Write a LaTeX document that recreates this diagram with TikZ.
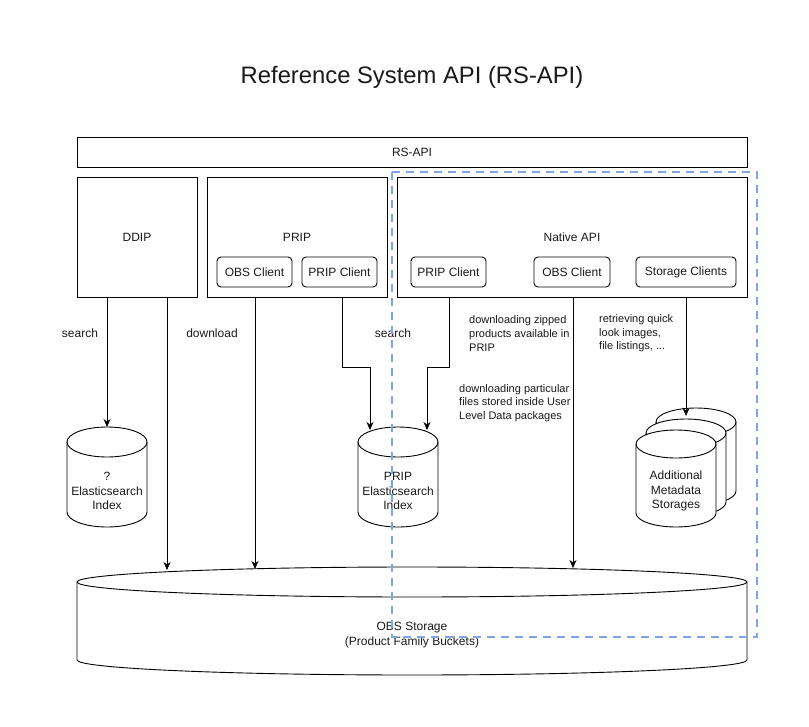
\documentclass[tikz,border=0pt]{standalone}
\usepackage{fontspec}
\setmainfont{Liberation Sans}
\usetikzlibrary{arrows.meta}
\definecolor{dashblue}{HTML}{7EA6E0}
\definecolor{txt}{HTML}{1A1A1A}
\tikzset{
  box/.style={draw, line width=0.9pt, fill=white, outer sep=0pt, inner sep=0pt, text=txt, font=\fontsize{12}{14.4}\selectfont},
  client/.style={box, rounded corners=4pt, minimum width=75pt, minimum height=30pt},
  lbl/.style={inner sep=0pt, text=txt, font=\fontsize{12}{14.4}\selectfont},
  note/.style={inner sep=0pt, text=txt, align=left, anchor=west, font=\fontsize{11}{13.6}\selectfont},
  cyltext/.style={inner sep=0pt, text=txt, align=center, font=\fontsize{12}{14.4}\selectfont},
  arr/.style={line width=0.9pt, -{Stealth[length=8pt,width=7pt,inset=2.5pt]}},
  cylline/.style={line width=0.9pt, fill=white},
  region/.style={draw=dashblue, line width=2.3pt, dash pattern=on 8pt off 6pt}
}
% cylinder: x1, y1(top), x2, y2(bottom), rx, ry
\newcommand\drawcyl[6]{%
  \filldraw[cylline] (#1,#2+#6) -- (#1,#4-#6)
    arc[start angle=180,end angle=360,x radius=#5pt,y radius=#6pt]
    -- (#3,#2+#6)
    arc[start angle=0,end angle=180,x radius=#5pt,y radius=#6pt] -- cycle;
  \draw[line width=0.9pt] (#1,#2+#6) arc[start angle=180,end angle=360,x radius=#5pt,y radius=#6pt];
}
\begin{document}
\begin{tikzpicture}[x=1pt,y=-1pt]
\useasboundingbox (0,0) rectangle (809,726);
\fill[white] (0,0) rectangle (809,726);

% title
\node[lbl, font=\fontsize{23.8}{28}\selectfont] (title) at (412,77) {Reference System API (RS-API)};

% RS-API bar
\node[box, minimum width=670pt, minimum height=30pt] (rsapi) at (412,152) {RS-API};

% DDIP
\node[box, minimum width=120pt, minimum height=120pt] (ddip) at (137,237) {DDIP};

% PRIP
\node[box, minimum width=180pt, minimum height=120pt] (prip) at (297,237) {};
\node[lbl] (priplabel) at (297,237) {PRIP};
\node[client] (pobs) at (254.5,272) {OBS Client};
\node[client] (ppc) at (339.5,272) {PRIP Client};

% Native API
\node[box, minimum width=350pt, minimum height=120pt] (native) at (572,237) {};
\node[lbl] (nativelabel) at (572,237) {Native API};
\node[client] (npc) at (448.5,272) {PRIP Client};
\node[client, minimum width=76pt] (nobs) at (572,272) {OBS Client};
\node[client, minimum width=100pt] (nsc) at (686,272) {Storage Clients};

% cylinders
\drawcyl{67}{427}{147}{527}{40}{15}
\node[cyltext] (esq) at (107,491) {?\\Elasticsearch\\Index};
\coordinate (esqtop) at (107,427);

\drawcyl{358}{427}{438}{527}{40}{15}
\node[cyltext] (pes) at (398,491) {PRIP\\Elasticsearch\\Index};
\coordinate (pesl) at (370,430);
\coordinate (pesr) at (427,430);

\drawcyl{656}{408}{736}{505}{40}{14}
\drawcyl{646}{419}{726}{516}{40}{14}
\drawcyl{636}{430}{716}{527}{40}{14}
\node[cyltext] (ams) at (676,491) {Additional\\Metadata\\Storages};
\coordinate (amstop) at (686,416);

\drawcyl{77}{567}{747}{675}{335}{15}
\node[cyltext] (obs) at (412,635) {OBS Storage\\(Product Family Buckets)};
\coordinate (obs1) at (167,570);
\coordinate (obs2) at (255,569);
\coordinate (obs3) at (573,568);

% bends of the search connectors
\coordinate (pbend) at (342,367);
\coordinate (nbend) at (449,367);

% connectors
\draw[arr] (ddip.south -| esqtop) -- (esqtop);
\draw[arr] (ddip.south -| obs1) -- (obs1);
\draw[arr] (prip.south -| obs2) -- (obs2);
\draw[arr] (prip.south -| pbend) -- (pbend) -| (pesl);
\draw[arr] (native.south -| nbend) -- (nbend) -| (pesr);
\draw[arr] (native.south -| obs3) -- (obs3);
\draw[arr] (native.south -| amstop) -- (amstop);

% labels
\node[lbl] (l1) at (80,333) {search};
\node[lbl] (l2) at (212,333) {download};
\node[lbl] (l3) at (393,333) {search};
\node[note] (l4) at (469,333.5) {downloading zipped\\products available in\\PRIP};
\node[note] (l5) at (599,333.5) {retrieving quick\\look images,\\file listings, ...};
\node[note] (l6) at (459,403) {downloading particular\\files stored inside User\\Level Data packages};

% dashed region
\draw[region] (392,172) rectangle (757,637);
\end{tikzpicture}
\end{document}
